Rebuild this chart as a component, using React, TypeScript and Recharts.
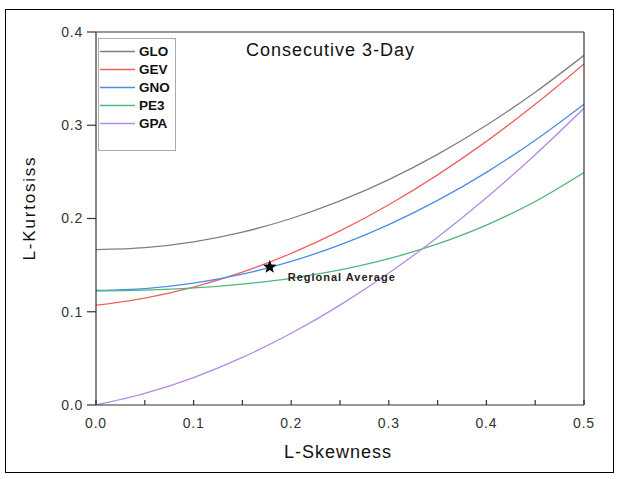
import { Line, LineChart, Scatter, XAxis, YAxis } from 'recharts';

const skew = [0, 0.05, 0.1, 0.15, 0.2, 0.25, 0.3, 0.35, 0.4, 0.45, 0.5];
const glo = [0.1667, 0.1688, 0.175, 0.1854, 0.2, 0.2188, 0.2417, 0.2688, 0.3, 0.3354, 0.375];
const gev = [0.107, 0.1147, 0.1265, 0.1425, 0.1626, 0.1867, 0.2148, 0.2468, 0.2827, 0.3224, 0.3658];
const gno = [0.1228, 0.1248, 0.1306, 0.1403, 0.154, 0.1717, 0.1935, 0.2194, 0.2495, 0.2839, 0.3226];
const pe3 = [0.1224, 0.1232, 0.1255, 0.1297, 0.1359, 0.1448, 0.1569, 0.1727, 0.1929, 0.2182, 0.2493];
const gpa = [0, 0.0124, 0.0294, 0.051, 0.0769, 0.1071, 0.1415, 0.1799, 0.2222, 0.2684, 0.3182];

const regionalAverage = [{ skew: 0.178, avg: 0.148 }];

const xAll = [0, 0.05, 0.1, 0.15, 0.2, 0.25, 0.3, 0.35, 0.4, 0.45, 0.5];
const yMajor = [0, 0.1, 0.2, 0.3, 0.4];
const yMinor = [0.05, 0.15, 0.25, 0.35];
const yAll = [0, 0.05, 0.1, 0.15, 0.2, 0.25, 0.3, 0.35, 0.4];

const series = [
  { key: 'GLO', values: glo, color: '#808080' },
  { key: 'GEV', values: gev, color: '#f06262' },
  { key: 'GNO', values: gno, color: '#4b8de8' },
  { key: 'PE3', values: pe3, color: '#4db87a' },
  { key: 'GPA', values: gpa, color: '#b58ae6' },
];

const data = skew.map((s, i) => {
  const row: any = { skew: s };
  series.forEach(sr => (row[sr.key] = sr.values[i]));
  return row;
});

const font = 'Liberation Sans, Arial, sans-serif';
const tickStyle = { fontSize: 14, fill: '#333', fontFamily: font, letterSpacing: 0.8 };
const axisStroke = { stroke: '#333', strokeWidth: 1.2 };

const fmtMajor = (v: number) => (Math.round(v * 100) % 10 === 0 ? v.toFixed(1) : '');

function LegendBox() {
  return (
    <div style={{ position: 'absolute', left: 98, top: 38, width: 78, height: 113, border: '1px solid #aaa', boxSizing: 'border-box', fontFamily: font, paddingTop: 3 }}>
      {series.map(s => (
        <div key={s.key} style={{ display: 'flex', alignItems: 'center', height: 18 }}>
          <svg width={40} height={18} style={{ display: 'block' }}>
            <line x1={1} x2={36} y1={9.5} y2={9.5} stroke={s.color} strokeWidth={1.5} />
          </svg>
          <span style={{ fontSize: 13.5, fontWeight: 'bold', color: '#111' }}>{s.key}</span>
        </div>
      ))}
    </div>
  );
}

function StarMark(props: any) {
  const { cx, cy } = props;
  const pts: string[] = [];
  for (let i = 0; i < 10; i++) {
    const r = i % 2 === 0 ? 7 : 3;
    const a = -Math.PI / 2 + (i * Math.PI) / 5;
    pts.push(`${cx + r * Math.cos(a)},${cy + r * Math.sin(a)}`);
  }
  return (
    <g>
      <polygon points={pts.join(' ')} fill="#000" />
      <text x={cx + 18} y={cy + 14} fontSize={11} fontWeight="bold" fontFamily={font} fill="#222" letterSpacing={1}>
        Regional Average
      </text>
    </g>
  );
}

const labelStyle: any = { position: 'absolute', fontFamily: font, color: '#111', whiteSpace: 'nowrap', lineHeight: 1 };

export default function App() {
  return (
    <div style={{ position: 'absolute', left: 0, top: 0, width: 620, height: 479, background: '#fff' }}>
      <div style={{ position: 'absolute', left: 5, top: 9, width: 609, height: 464, border: '1.5px solid #000', boxSizing: 'border-box' }} />
      <div style={{ position: 'absolute', left: 0, top: 0 }}>
        <LineChart width={620} height={479} data={data} margin={{ top: 32, right: 36, bottom: 73, left: 94 }}>
          <XAxis xAxisId="x" dataKey="skew" type="number" domain={[0, 0.5]} ticks={xAll} tickFormatter={fmtMajor}
            height={1} tickSize={-5} tickMargin={18} tick={tickStyle} tickLine={axisStroke} axisLine={axisStroke} allowDataOverflow />
          <XAxis xAxisId="xt" orientation="top" type="number" domain={[0, 0.5]} ticks={xAll} height={1} mirror tick={false}
            tickSize={5} tickLine={axisStroke} axisLine={axisStroke} />
          <YAxis yAxisId="y" type="number" domain={[0, 0.4]} ticks={yMajor} tickFormatter={v => v.toFixed(1)} width={1}
            tickSize={9} tickMargin={4} tick={tickStyle} tickLine={axisStroke} axisLine={axisStroke} allowDataOverflow />
          <YAxis yAxisId="ym" type="number" domain={[0, 0.4]} ticks={yMinor} width={1} tick={false} tickSize={4}
            tickLine={axisStroke} axisLine={false} />
          <YAxis yAxisId="yr" orientation="right" type="number" domain={[0, 0.4]} ticks={yAll} width={1} mirror tick={false}
            tickSize={5} tickLine={axisStroke} axisLine={axisStroke} />
          {series.map(s => (
            <Line key={s.key} xAxisId="x" yAxisId="y" type="monotone" dataKey={s.key} stroke={s.color} strokeWidth={1.3}
              dot={false} isAnimationActive={false} />
          ))}
          <Scatter xAxisId="x" yAxisId="y" data={regionalAverage} dataKey="avg" shape={<StarMark />} isAnimationActive={false}
            legendType="none" />
        </LineChart>
      </div>
      <LegendBox />
      <div style={{ ...labelStyle, left: 246, top: 41, fontSize: 18, letterSpacing: 1 }}>
        Consecutive 3-Day
      </div>
      <div style={{ ...labelStyle, left: 338, top: 452, transform: 'translate(-50%, -50%)', fontSize: 18, letterSpacing: 1 }}>
        L-Skewness
      </div>
      <div style={{ ...labelStyle, left: 29, top: 208, transform: 'translate(-50%, -50%) rotate(-90deg)', fontSize: 17, letterSpacing: 1.8 }}>
        L-Kurtosiss
      </div>
    </div>
  );
}
